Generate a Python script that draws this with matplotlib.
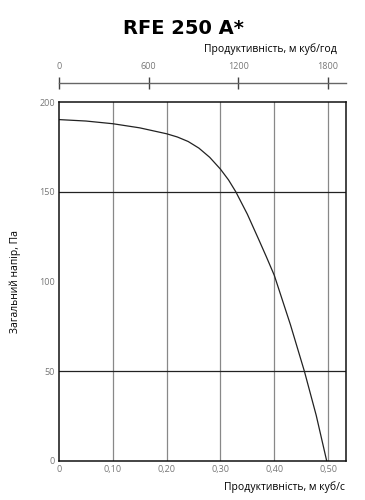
import numpy as np
import matplotlib.pyplot as plt

# fan curve RFE 250 A*
flow = [0.0, 0.05, 0.10, 0.15, 0.20, 0.22, 0.24, 0.26, 0.28, 0.30, 0.315, 0.3285,
        0.35, 0.371, 0.385, 0.40, 0.43, 0.456, 0.478, 0.4975]
pressure = [190.2, 189.4, 187.9, 185.6, 182.3, 180.5, 178.0, 174.3, 169.2, 162.6, 156.6, 150,
            137.5, 123.5, 114, 103.5, 76, 50, 25.4, 0]

x_ticks = [0, 0.1, 0.2, 0.3, 0.4, 0.5]
x_labels = ['0', '0,10', '0,20', '0,30', '0,40', '0,50']
y_ticks = [0, 50, 100, 150, 200]
top_ticks = [0, 600, 1200, 1800]

plt.rcParams['font.family'] = ['Open Sans', 'DejaVu Sans']

fig = plt.figure(figsize=(3.65, 5), dpi=100)
W, H = 365, 500
ax = fig.add_axes([59 / W, 39 / H, 287 / W, 359 / H])

xmax = 0.5 + 18 / 540
ax.set_xlim(0, xmax)
ax.set_ylim(0, 200)

for x in x_ticks[1:]:
    ax.axvline(x, color='#888888', lw=0.9, zorder=1)
for y in [50, 150]:
    ax.axhline(y, color='#222222', lw=0.9, zorder=1)

ax.plot(flow, pressure, color='#222222', lw=0.9, zorder=2, solid_joinstyle='round')

ax.set_xticks(x_ticks)
ax.set_xticklabels(x_labels)
ax.set_yticks(y_ticks)
ax.tick_params(length=0, labelsize=6.5, labelcolor='#777777', pad=3)
for s in ax.spines.values():
    s.set_color('#111111')
    s.set_linewidth(1.1)

ax.set_ylabel('Загальний напір, Па', fontsize=7.5, labelpad=13)
fig.text(345 / W, 1 - 487 / H, 'Продуктивність, м куб/с', ha='right', va='center', fontsize=7.5)

# top axis in m3/h
ax2 = fig.add_axes([59 / W, 1 - 83 / H, 287 / W, 0.001])
ax2.set_xlim(0, xmax * 3600)
ax2.set_ylim(0, 1)
for k in ['top', 'left', 'right']:
    ax2.spines[k].set_visible(False)
ax2.spines['bottom'].set_color('#666666')
ax2.spines['bottom'].set_linewidth(1.0)
ax2.set_yticks([])
ax2.set_xticks(top_ticks)
ax2.tick_params(axis='x', direction='inout', length=8, width=1, color='#444444',
                labelbottom=False, labeltop=True, labelsize=6.5, labelcolor='#777777', pad=4)
fig.text(337 / W, 1 - 49 / H, 'Продуктивність, м куб/год', ha='right', va='center', fontsize=7.5)

fig.text(183 / W, 1 - 28 / H, 'RFE 250 A*', ha='center', va='center', fontsize=14,
         fontweight='heavy', family=['DejaVu Sans'])

fig.savefig('out.png', dpi=100)
